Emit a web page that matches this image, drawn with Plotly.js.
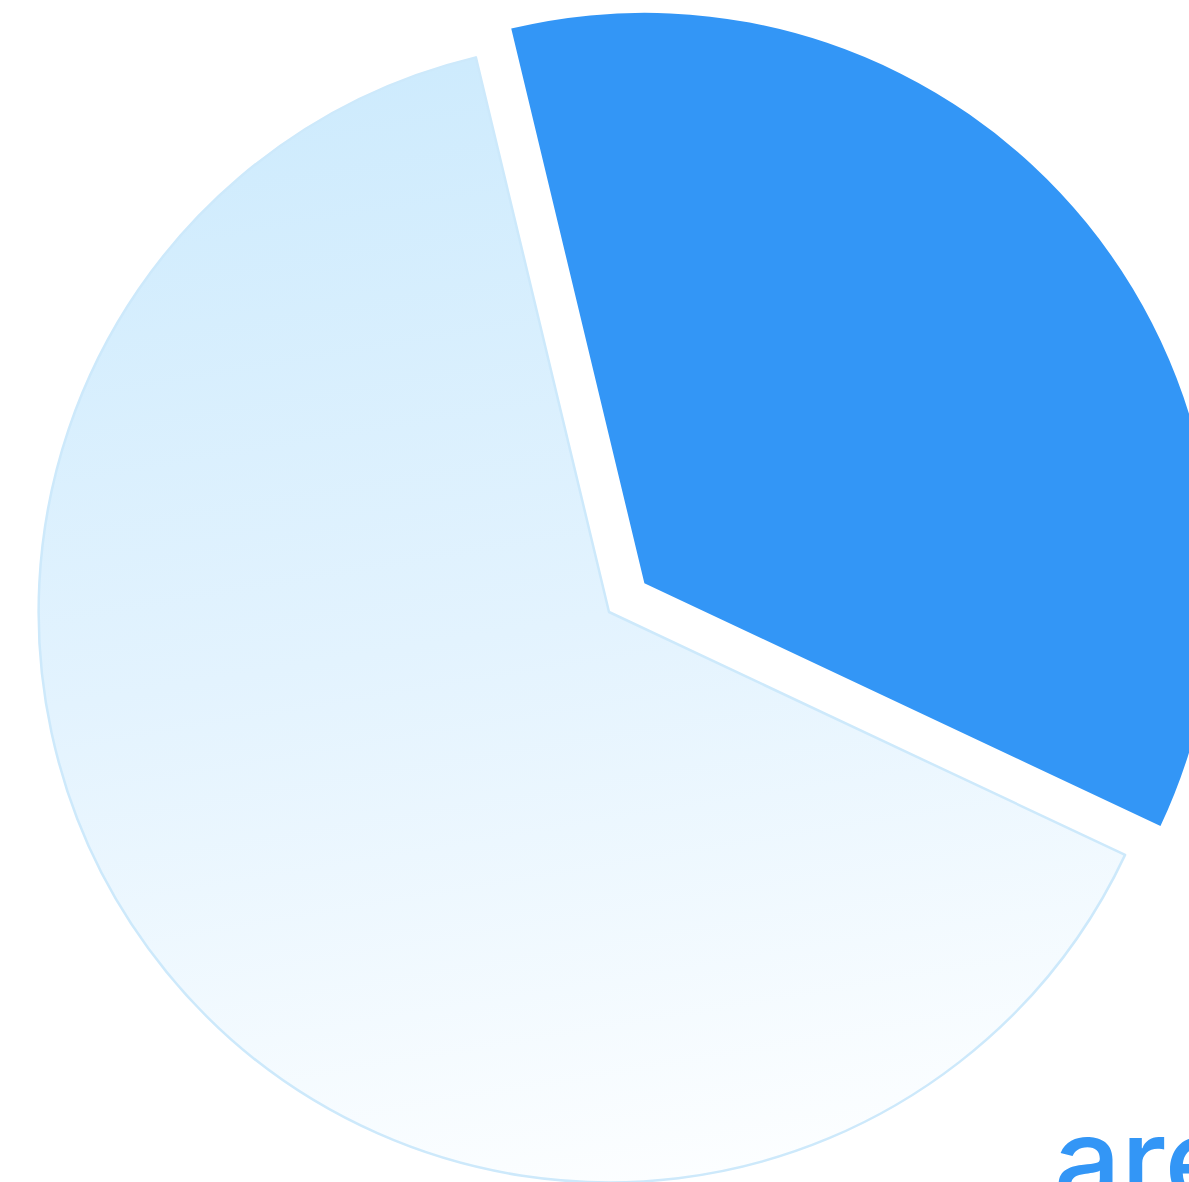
<!DOCTYPE html>
<html>
<head>
<meta charset="utf-8">
<script src="https://cdn.plot.ly/plotly-3.0.1.min.js"></script>
<style>
html,body{margin:0;padding:0;width:1189px;height:1182px;overflow:hidden;background:#fff;}
#chart{position:absolute;left:-7px;top:-4px;width:1232px;height:1232px;}
</style>
</head>
<body>
<div id="chart"></div>
<script>
// Data
const labels = ["Share A", "Share B"];
const values = [35.75, 64.25];
const sliceColors = ["#3396F6", "rgba(0,0,0,0)"];
const pulls = [0.08, 0];
const captionText = "are";

const trace = {
  type: "pie",
  labels: labels,
  values: values,
  sort: false,
  direction: "clockwise",
  rotation: -13.5,
  pull: pulls,
  textinfo: "none",
  hoverinfo: "label+percent",
  showlegend: false,
  marker: {
    colors: sliceColors,
    line: {color: ["rgba(0,0,0,0)", "#CDE9FB"], width: [0, 2.5]}
  },
  domain: {x: [0, 1], y: [0, 1]}
};

const layout = {
  width: 1232,
  height: 1232,
  margin: {l: 0, r: 0, t: 0, b: 0},
  paper_bgcolor: "#ffffff",
  showlegend: false,
  annotations: [{
    text: captionText,
    xref: "paper", yref: "paper",
    x: 1059 / 1232, y: 1 - 1236 / 1232,
    xanchor: "left", yanchor: "bottom",
    showarrow: false,
    font: {family: "Inter, 'Noto Sans', sans-serif", size: 118, color: "#3396F6", weight: 500}
  }]
};

Plotly.newPlot("chart", [trace], layout, {staticPlot: true}).then(function (gd) {
  const svg = gd.querySelector(".main-svg");
  const ns = "http://www.w3.org/2000/svg";
  let defs = svg.querySelector("defs");
  if (!defs) { defs = document.createElementNS(ns, "defs"); svg.insertBefore(defs, svg.firstChild); }
  const grad = document.createElementNS(ns, "linearGradient");
  grad.setAttribute("id", "lightSliceGrad");
  grad.setAttribute("x1", "0.42"); grad.setAttribute("y1", "0");
  grad.setAttribute("x2", "0.58"); grad.setAttribute("y2", "1");
  [["0", "#CEEBFD"], ["0.5", "#E3F3FE"], ["1", "#FCFEFF"]].forEach(function (s) {
    const st = document.createElementNS(ns, "stop");
    st.setAttribute("offset", s[0]);
    st.setAttribute("stop-color", s[1]);
    grad.appendChild(st);
  });
  defs.appendChild(grad);
  const slices = gd.querySelectorAll("g.slice path.surface");
  if (slices.length > 1) {
    slices[1].style.fill = "url(#lightSliceGrad)";
    slices[1].style.fillOpacity = "1";
  }
});
</script>
</body>
</html>
